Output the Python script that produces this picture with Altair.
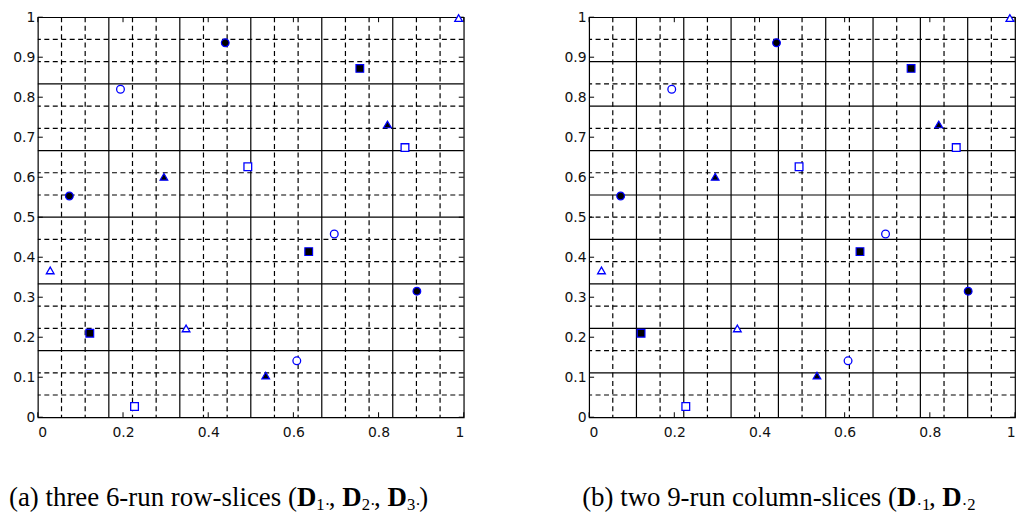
import altair as alt
import pandas as pd

# ---- design points (same 18 points in both panels) ----
PX = [0.440, 0.194, 0.296, 0.074, 0.493, 0.756, 0.821, 0.862, 0.988,
      0.029, 0.122, 0.348, 0.227, 0.696, 0.636, 0.890, 0.608, 0.535]
PY = [0.936, 0.820, 0.601, 0.553, 0.626, 0.872, 0.732, 0.674, 0.998,
      0.367, 0.210, 0.222, 0.027, 0.458, 0.414, 0.315, 0.141, 0.104]
SHAPE = ["circle", "circle", "triangle-up", "circle", "square", "square",
         "triangle-up", "square", "triangle-up", "triangle-up", "square",
         "triangle-up", "square", "circle", "square", "circle", "circle",
         "triangle-up"]
FILLED = [True, False, True, True, False, True, True, False, False,
          False, True, False, False, False, True, True, False, True]

# ---- grid lines ----
LEFT_SOLID = [k / 6 for k in range(1, 6)]
LEFT_DASHED = [k / 18 for k in range(1, 18) if k % 3 != 0]
RIGHT_SOLID = [k / 9 for k in range(1, 9)]
RIGHT_DASHED = [k / 18 for k in range(1, 18, 2)]

XTICKS = [0, 0.2, 0.4, 0.6, 0.8, 1]
YTICKS = [0, 0.1, 0.2, 0.3, 0.4, 0.5, 0.6, 0.7, 0.8, 0.9, 1]

CAPTION_A = [("(a) three 6-run row-slices (", "n"), ("D", "b"), ("1·", "s"),
             (", ", "n"), ("D", "b"), ("2·", "s"), (", ", "n"),
             ("D", "b"), ("3·", "s"), (")", "n")]
CAPTION_B = [("(b) two 9-run column-slices (", "n"), ("D", "b"), ("·1", "s"),
             (", ", "n"), ("D", "b"), ("·2", "s")]

W, H = 428, 402
BLUE = "#0000ff"

TIMES = {' ': 250, '(': 333, ')': 333, 'a': 444, 'b': 500, 'c': 444, 'e': 444,
         'h': 500, 'i': 278, 'l': 278, 'm': 778, 'n': 500, 'o': 500, 'r': 333,
         's': 389, 't': 278, 'u': 500, 'w': 722, '-': 333, ',': 250, '·': 250,
         '1': 500, '2': 500, '3': 500, '6': 500, '9': 500, 'D': 722}

SC = alt.Scale(domain=[0, 1], nice=False, zero=False)
XAX = alt.Axis(values=XTICKS, format="~g", title=None, labelPadding=8)
YAX = alt.Axis(values=YTICKS, format="~g", title=None, labelPadding=3, minExtent=29)


def xenc():
    return alt.X("x:Q", scale=SC, axis=XAX)


def yenc():
    return alt.Y("y:Q", scale=SC, axis=YAX)


def caption_layers(segments, x0, y0, fs):
    layers = []
    x = x0
    for text, kind in segments:
        size = fs
        weight = "normal"
        dy = 0
        if kind == "b":
            weight = "bold"
        elif kind == "s":
            size = round(fs * 0.62, 1)
            dy = round(fs * 0.14, 1)
        w = sum(TIMES.get(c, 500) for c in text) / 1000 * size
        layers.append(
            alt.Chart(pd.DataFrame({"t": [text]}))
            .mark_text(align="left", baseline="alphabetic", font="Liberation Serif",
                       fontSize=size, fontWeight=weight, color="black")
            .encode(x=alt.value(round(x, 1)), y=alt.value(y0 + dy), text="t:N")
        )
        x += w
    return layers


def panel(solid, dashed, caption, cap_x):
    dash_df_x = pd.DataFrame({"x": dashed})
    dash_df_y = pd.DataFrame({"y": dashed})
    solid_df_x = pd.DataFrame({"x": solid})
    solid_df_y = pd.DataFrame({"y": solid})
    dv = alt.Chart(dash_df_x).mark_rule(color="black", strokeWidth=1.2,
                                        strokeDash=[5, 3.5]).encode(x=xenc())
    dh = alt.Chart(dash_df_y).mark_rule(color="black", strokeWidth=1.2,
                                        strokeDash=[5, 3.5]).encode(y=yenc())
    sv = alt.Chart(solid_df_x).mark_rule(color="black", strokeWidth=1.2).encode(x=xenc())
    sh = alt.Chart(solid_df_y).mark_rule(color="black", strokeWidth=1.2).encode(y=yenc())

    ydf = pd.DataFrame({"y": YTICKS})
    xdf = pd.DataFrame({"x": XTICKS})
    tl = alt.Chart(ydf).mark_rule(color="black").encode(y=yenc(), x=alt.value(0), x2=alt.value(5))
    tr = alt.Chart(ydf).mark_rule(color="black").encode(y=yenc(), x=alt.value(W - 5), x2=alt.value(W))
    tb = alt.Chart(xdf).mark_rule(color="black").encode(x=xenc(), y=alt.value(H - 5), y2=alt.value(H))
    tt = alt.Chart(xdf).mark_rule(color="black").encode(x=xenc(), y=alt.value(0), y2=alt.value(5))

    pts = pd.DataFrame({"x": PX, "y": PY, "shape": SHAPE, "filled": FILLED})
    filled = (alt.Chart(pts[pts["filled"]])
              .mark_point(fill="black", stroke=BLUE, strokeWidth=1.2, opacity=1,
                          fillOpacity=1, size=60)
              .encode(x=xenc(), y=yenc(), shape=alt.Shape("shape:N", scale=None)))
    hollow = (alt.Chart(pts[~pts["filled"]])
              .mark_point(fill="white", stroke=BLUE, strokeWidth=1.3, opacity=1,
                          fillOpacity=1, size=60)
              .encode(x=xenc(), y=yenc(), shape=alt.Shape("shape:N", scale=None)))

    caps = caption_layers(caption, cap_x, 491, 27)
    return alt.layer(dv, dh, sv, sh, tl, tr, tb, tt, filled, hollow, *caps).properties(
        width=W, height=H)


left = panel(LEFT_SOLID, LEFT_DASHED, CAPTION_A, -29)
right = panel(RIGHT_SOLID, RIGHT_DASHED, CAPTION_B, -7)

chart = (
    alt.hconcat(left, right, spacing=126, bounds="flush")
    .properties(padding=0, background="white")
    .configure_view(stroke="black", strokeWidth=1.2)
    .configure_axis(domain=False, ticks=False, tickSize=0, grid=False,
                    labelFont="DejaVu Sans", labelFontSize=14, labelColor="#111")
)

chart.save("out.html", embed_options={"renderer": "svg", "actions": False})
